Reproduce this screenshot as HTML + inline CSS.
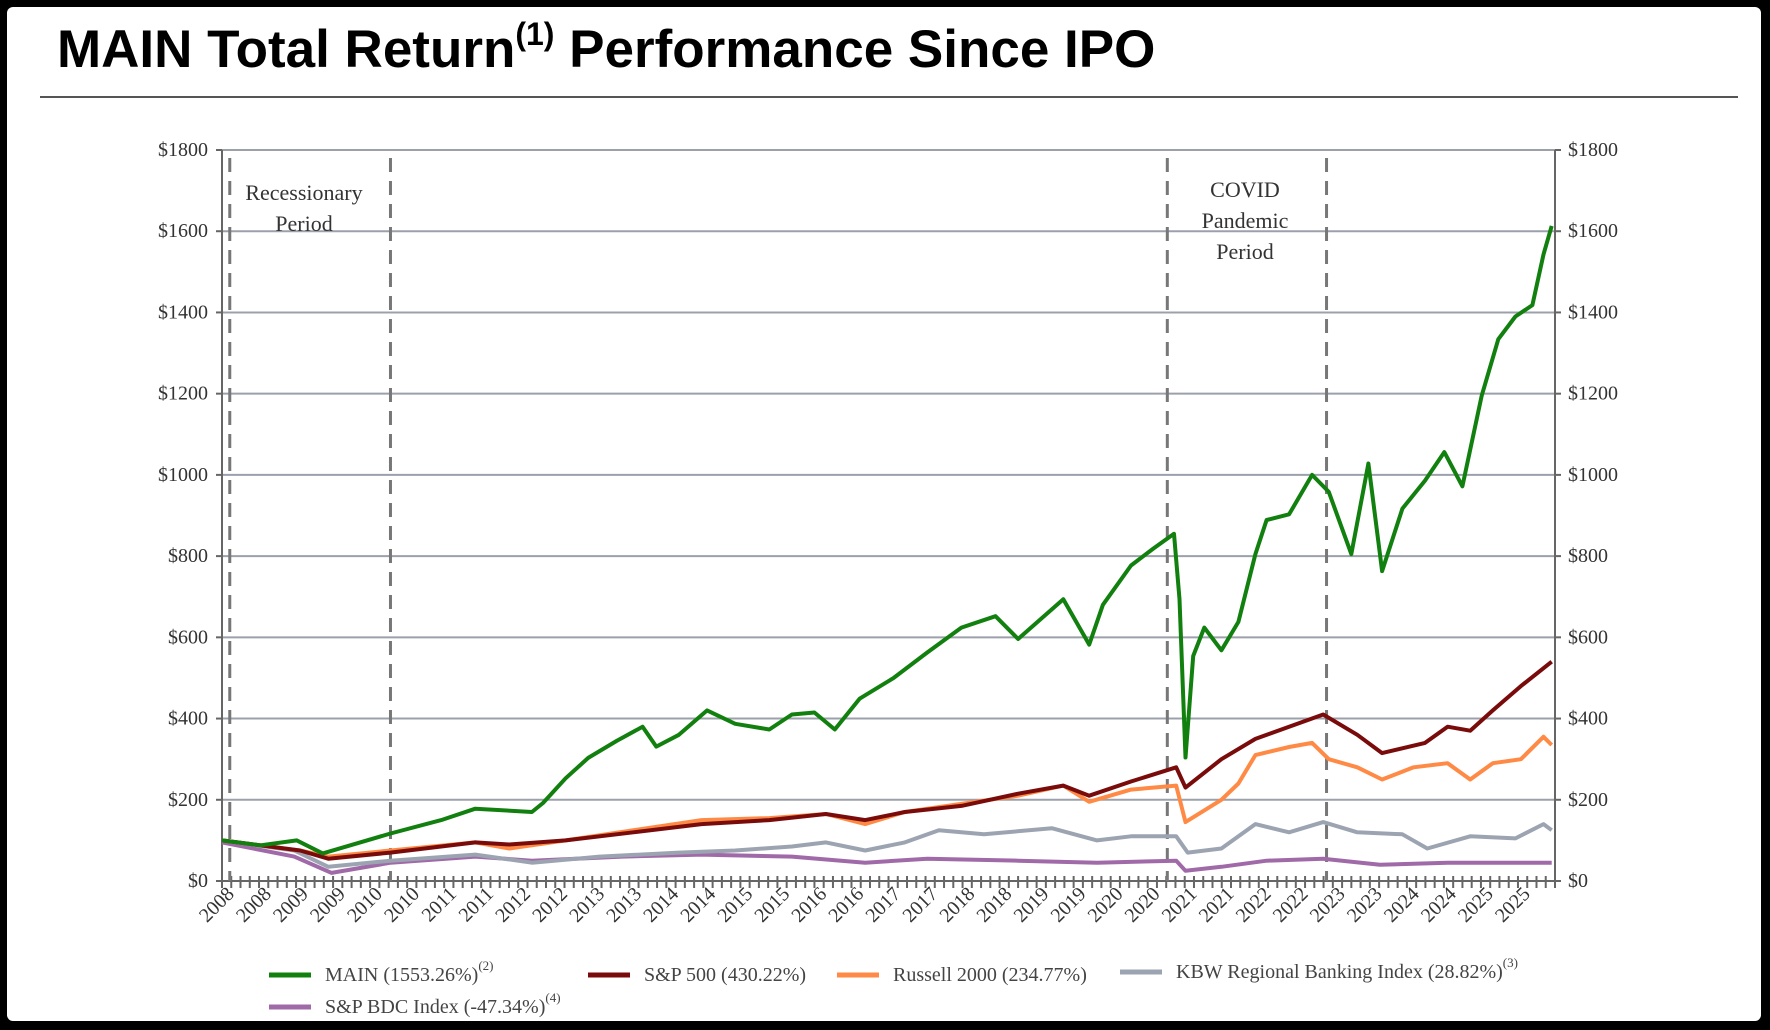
<!DOCTYPE html>
<html><head><meta charset="utf-8"><style>
html,body{margin:0;padding:0;width:1770px;height:1030px;overflow:hidden;background:#000;}
#frame{position:absolute;left:7px;top:7px;width:1754px;height:1014px;background:#fff;border-radius:6px;}
#title{position:absolute;left:57px;top:19px;font-family:"Liberation Sans",sans-serif;font-weight:bold;font-size:53px;color:#000;white-space:nowrap;}
#title sup{font-size:32px;vertical-align:0;position:relative;top:-22px;}
#rule{position:absolute;left:40px;top:96px;width:1698px;height:2px;background:#555;}
svg{position:absolute;left:0;top:0;}
</style></head><body>
<div id="frame"></div>
<div id="title">MAIN Total Return<sup>(1)</sup> Performance Since IPO</div>
<div id="rule"></div>
<svg id="chart" width="1770" height="1030"></svg>
<script>
const yTicks=[0,200,400,600,800,1000,1200,1400,1600,1800];
const xLabels=["2008","2008","2009","2009","2010","2010","2011","2011","2012","2012","2013","2013","2014","2014","2015","2015","2016","2016","2017","2017","2018","2018","2019","2019","2020","2020","2021","2021","2022","2022","2023","2023","2024","2024","2025","2025"];
const eventLines=[0.21,4.55,25.53,29.83];
const mainT=[0,1.04,2.02,2.72,4.55,5.92,6.84,8.37,8.67,9.28,9.89,10.66,11.36,11.73,12.34,13.1,13.86,14.78,15.39,16.0,16.55,17.22,18.14,19.05,19.97,20.89,21.5,22.72,23.42,23.79,24.55,25.16,25.71,25.86,26.02,26.23,26.53,26.99,27.45,27.91,28.21,28.82,29.44,29.89,30.5,30.96,31.33,31.88,32.49,33.01,33.5,34.02,34.47,34.93,35.39,35.69,35.91];
const mainV=[100,88,100,68,117,150,178,170,192,253,303,345,380,331,360,420,387,373,410,415,373,449,500,563,624,652,596,694,582,680,777,819,855,694,304,554,624,568,638,805,889,903,1000,958,805,1028,763,917,986,1056,972,1195,1334,1390,1418,1543,1613];
const spT=[0,2.11,2.87,4.55,6.84,7.76,9.28,11.11,12.95,14.78,16.31,17.37,18.44,19.97,21.5,22.72,23.42,24.55,25.77,26.02,26.99,27.91,28.82,29.74,30.66,31.33,32.49,33.1,33.71,34.32,35.08,35.91];
const spV=[100,75,55,70,95,90,100,120,140,150,165,150,170,185,215,235,210,245,280,230,300,350,380,410,360,315,340,380,370,420,480,540];
const ruT=[0,2.11,2.87,4.55,6.84,7.76,9.28,11.11,12.95,14.78,16.31,17.37,18.44,19.97,21.5,22.72,23.42,24.55,25.77,26.02,26.99,27.45,27.91,28.82,29.44,29.89,30.66,31.33,32.18,33.1,33.71,34.32,35.08,35.69,35.91];
const ruV=[100,75,60,75,95,80,100,125,150,155,165,140,170,190,210,235,195,225,235,145,200,240,310,330,340,300,280,250,280,290,250,290,300,355,335];
const kbT=[0,1.95,2.87,4.55,6.84,8.37,10.2,12.34,13.86,15.39,16.31,17.37,18.44,19.36,20.58,22.41,23.63,24.55,25.77,26.08,26.99,27.91,28.82,29.74,30.66,31.88,32.55,33.71,34.93,35.69,35.91];
const kbV=[100,75,35,50,65,45,60,70,75,85,95,75,95,125,115,130,100,110,110,70,80,140,120,145,120,115,80,110,105,140,125];
const bdT=[0,1.95,2.96,4.55,6.84,8.37,10.81,12.95,15.39,17.37,19.05,21.5,23.63,25.77,26.02,26.99,28.21,29.74,31.27,33.1,35.91];
const bdV=[95,60,20,45,60,50,60,65,60,45,55,50,45,50,25,35,50,55,40,45,45];

const NS="http://www.w3.org/2000/svg";
const svg=document.getElementById('chart');
const L=222,R=1555,T=150,B=881,TMAX=36,VMAX=1800;
const xs=t=>L+t*(R-L)/TMAX;
const ys=v=>B-v*(B-T)/VMAX;
function mk(tag,attrs,parent){const e=document.createElementNS(NS,tag);for(const k in attrs)e.setAttribute(k,attrs[k]);(parent||svg).appendChild(e);return e;}
const serif='"Liberation Serif",serif';
yTicks.forEach(v=>{
  const g=mk('line',{x1:L,x2:R,y1:ys(v),y2:ys(v),stroke:'#9ba0aa','stroke-width':2});
  
  
  const a=mk('text',{x:208,y:ys(v)+6,'text-anchor':'end','font-family':serif,'font-size':20,fill:'#333'});
  a.textContent='$'+v;
  
  
  const b=mk('text',{x:1568,y:ys(v)+6,'text-anchor':'start','font-family':serif,'font-size':20,fill:'#333'});
  b.textContent='$'+v;
  
  
});
[[L,T,L,B],[R,T,R,B],[L,B,R,B]].forEach(c=>{const a=mk('line',{x1:c[0],y1:c[1],x2:c[2],y2:c[3],stroke:'#666','stroke-width':2});
  
  });
yTicks.forEach(v=>{mk('line',{x1:L-6,x2:L,y1:ys(v),y2:ys(v),stroke:'#666','stroke-width':2});mk('line',{x1:R,x2:R+6,y1:ys(v),y2:ys(v),stroke:'#666','stroke-width':2});});
for(let i=0;i<=TMAX*4;i++){const x=xs(i/4);const t=mk('line',{x1:x,x2:x,y1:B-5,y2:B+7,stroke:'#666','stroke-width':2});
  
  }
xLabels.forEach((s,i)=>{const x=xs(i+0.25)+4,y=B+14;
  const t=mk('text',{x:x,y:y,'text-anchor':'end','font-family':serif,'font-size':20,fill:'#333',transform:`rotate(-45 ${x} ${y})`});
  t.textContent=s;
  
  });
eventLines.forEach(t=>{const l=mk('line',{x1:xs(t),x2:xs(t),y1:T+8,y2:B,stroke:'#777','stroke-width':3,'stroke-dasharray':'14,9'});
  
  });
function ann(lines,cx,y0,dy,name){lines.forEach((s,i)=>{const t=mk('text',{x:cx,y:y0+i*dy,'text-anchor':'middle','font-family':serif,'font-size':22,fill:'#333'});t.textContent=s;
  
  });}
ann(['Recessionary','Period'],304,200,31,'recession-label');
ann(['COVID','Pandemic','Period'],1245,197,31,'covid-label');
function series(T_,V_,color,name){const d=T_.map((t,i)=>(i?'L':'M')+xs(t).toFixed(1)+' '+ys(V_[i]).toFixed(1)).join(' ');
  const p=mk('path',{d:d,fill:'none',stroke:color,'stroke-width':4,'stroke-linejoin':'round'});
  
  }
series(bdT,bdV,'#a069a8','line-sp-bdc');
series(kbT,kbV,'#9ca4b2','line-kbw');
series(ruT,ruV,'#ff8a45','line-russell-2000');
series(spT,spV,'#7a0b0b','line-sp-500');
series(mainT,mainV,'#12800f','line-main');
const legendItems=[['MAIN (1553.26%)','(2)','#12800f',269,972],['S&P 500 (430.22%)','','#7a0b0b',588,972],['Russell 2000 (234.77%)','','#ff8a45',837,972],['KBW Regional Banking Index (28.82%)','(3)','#9ca4b2',1120,969],['S&P BDC Index (-47.34%)','(4)','#a069a8',269,1004]];
legendItems.forEach(it=>{const g=mk('g',{});
  
  
  mk('line',{x1:it[3],x2:it[3]+42,y1:it[4]+3,y2:it[4]+3,stroke:it[2],'stroke-width':5},g);
  const t=mk('text',{x:it[3]+56,y:it[4]+9,'font-family':serif,'font-size':20,fill:'#444'},g);
  t.textContent=it[0];
  if(it[1]){const s=mk('tspan',{dy:-11,'font-size':13},t);s.textContent=it[1];}
});
</script>
</body></html>
